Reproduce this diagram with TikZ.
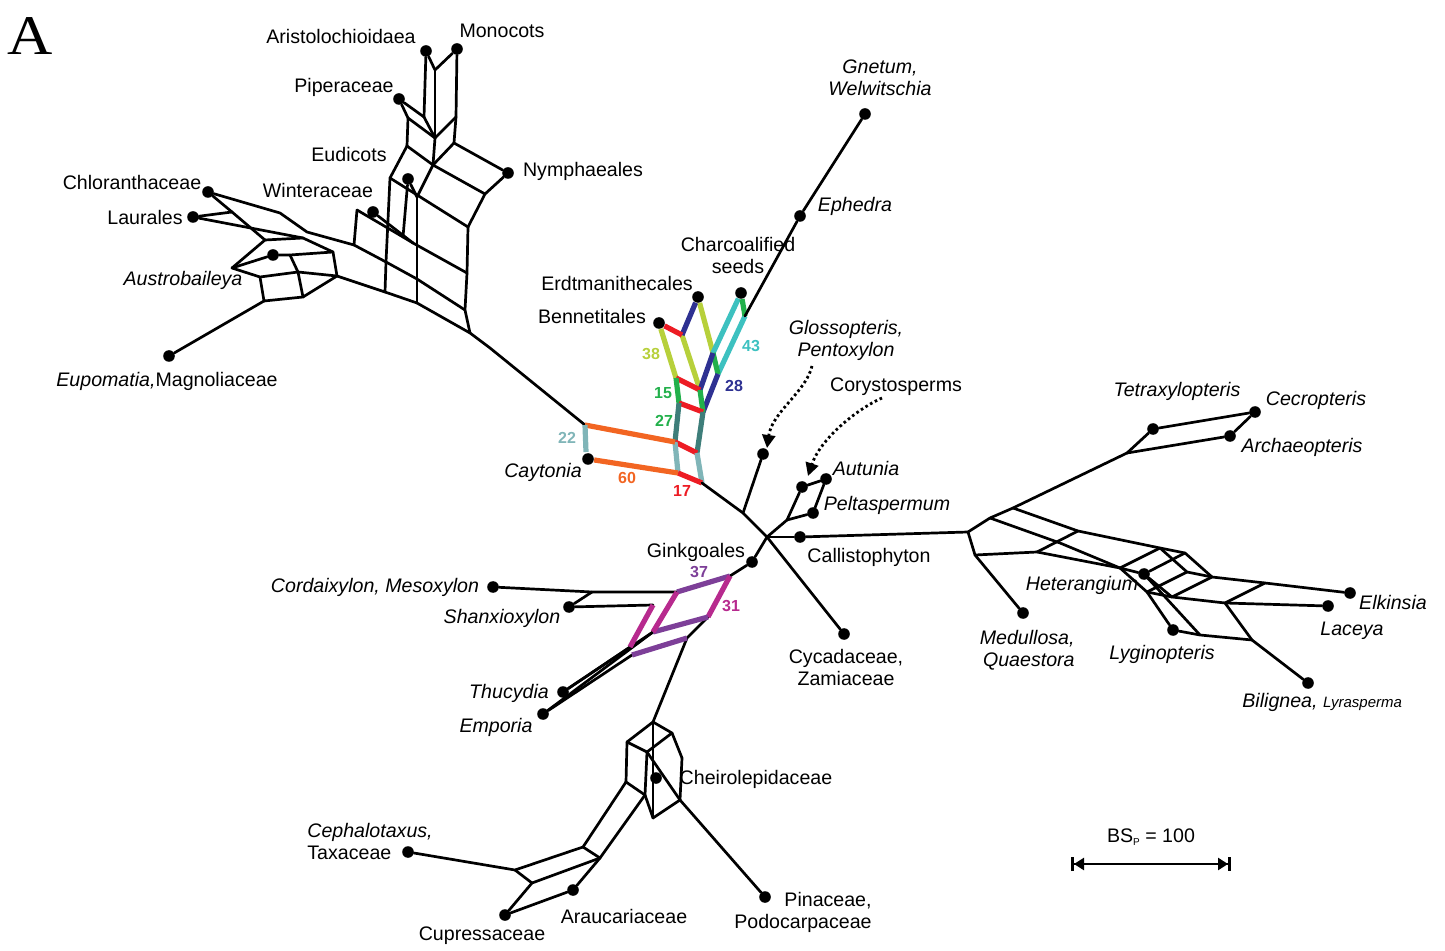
\documentclass[tikz,border=0pt]{standalone}
\usepackage{fontspec}
\setmainfont{Liberation Sans}
\newfontfamily\serifA{Liberation Serif}
\usetikzlibrary{arrows.meta}
\definecolor{cLime}{HTML}{B7D03B}
\definecolor{cGreen}{HTML}{22B04B}
\definecolor{cCyan}{HTML}{3DC1C0}
\definecolor{cNavy}{HTML}{2E3192}
\definecolor{cRed}{HTML}{ED1C24}
\definecolor{cOrange}{HTML}{F26522}
\definecolor{cDTeal}{HTML}{3E7E7A}
\definecolor{cLTeal}{HTML}{80B5B8}
\definecolor{cPurple}{HTML}{7D3F98}
\definecolor{cMagenta}{HTML}{B72A8E}
\begin{document}
\begin{tikzpicture}[x=0.5pt,y=-0.5pt,
  e/.style={line width=1.35pt,line cap=round,line join=round},
  ce/.style={line width=2.6pt},
  dot/.style={circle,fill=black,inner sep=0pt,minimum size=5.8pt},
  lab/.style={font=\fontsize{9.8}{11}\selectfont,inner sep=0pt},
  ilab/.style={font=\fontsize{9.8}{11}\selectfont\itshape,inner sep=0pt},
  num/.style={font=\fontsize{8}{9}\selectfont\bfseries,inner sep=0pt},
  arr/.style={line width=1.4pt,dash pattern=on 1.3pt off 1.4pt,-{Triangle[length=6.5pt,width=6.5pt]}},
]
\useasboundingbox (0,0) rectangle (1445,951);

% ---------------- dots ----------------
\node[dot] (aris) at (426,51) {};
\node[dot] (mono) at (457,49) {};
\node[dot] (pipe) at (399,99) {};
\node[dot] (nymph) at (508,173) {};
\node[dot] (eudi) at (408,179) {};
\node[dot] (wint) at (373,212) {};
\node[dot] (chlo) at (208,192) {};
\node[dot] (laur) at (193,217) {};
\node[dot] (austro) at (273,255) {};
\node[dot] (eupo) at (169,356) {};
\node[dot] (gnet) at (865,114) {};
\node[dot] (ephe) at (800,216) {};
\node[dot] (char) at (741,293) {};
\node[dot] (erdt) at (698,297) {};
\node[dot] (benn) at (659,323) {};
\node[dot] (cayt) at (588,459) {};
\node[dot] (glos) at (763,454) {};
\node[dot] (cdot) at (802,487) {};
\node[dot] (autu) at (826,479) {};
\node[dot] (pelt) at (813,513) {};
\node[dot] (call) at (800,537) {};
\node[dot] (ginkgo) at (752,562) {};
\node[dot] (cycad) at (844,634) {};
\node[dot] (cord) at (493,587) {};
\node[dot] (shanx) at (569,607) {};
\node[dot] (thuc) at (563,692) {};
\node[dot] (empo) at (543,714) {};
\node[dot] (cheir) at (656,778) {};
\node[dot] (ceph) at (408,852) {};
\node[dot] (cupr) at (505,915) {};
\node[dot] (arauc) at (573,890) {};
\node[dot] (pina) at (765,897) {};
\node[dot] (medu) at (1023,613) {};
\node[dot] (tetr) at (1153,429) {};
\node[dot] (cecr) at (1255,412) {};
\node[dot] (arch) at (1230,436) {};
\node[dot] (heter) at (1144,574) {};
\node[dot] (lygi) at (1173,630) {};
\node[dot] (elki) at (1350,593) {};
\node[dot] (lace) at (1328,606) {};
\node[dot] (bili) at (1308,683) {};

% ---------------- angiosperm network ----------------
\coordinate (a1) at (424,117); \coordinate (a2) at (435,70);
\coordinate (a3) at (435,138); \coordinate (a4) at (456,117);
\coordinate (a5) at (408,118); \coordinate (a6) at (407,146);
\coordinate (a7) at (433,165); \coordinate (a8) at (454,143);
\coordinate (a9) at (390,178); \coordinate (a10) at (485,194);
\coordinate (a11) at (417,197); \coordinate (a12) at (468,227);
\coordinate (a13) at (403,237); \coordinate (a14) at (385,292);
\coordinate (a15) at (417,303); \coordinate (a16) at (467,273);
\coordinate (a17) at (465,310); \coordinate (a18) at (470,333);
\coordinate (a19) at (357,210); \coordinate (a20) at (354,245);
\coordinate (a21) at (413,243); \coordinate (a22) at (386,262);
\coordinate (a23) at (417,279); \coordinate (a24) at (280,213);
\coordinate (a25) at (307,232); \coordinate (a26) at (232,212);
\coordinate (a28) at (490,348);
\coordinate (bL) at (232,268); \coordinate (bT1) at (265,240);
\coordinate (bT2) at (303,238); \coordinate (bM1) at (290,255);
\coordinate (bM2) at (333,252); \coordinate (bF1) at (260,277);
\coordinate (bF2) at (298,272); \coordinate (bF3) at (337,276);
\coordinate (bG1) at (264,301); \coordinate (bG2) at (303,297);

\draw[e] (aris) -- (a1);
\draw[e] (aris) -- (a2);
\draw[e] (mono) -- (a2);
\draw[e] (a2) -- (a3);
\draw[e] (mono) -- (a4);
\draw[e] (pipe) -- (a5);
\draw[e] (pipe) -- (a1);
\draw[e] (a5) -- (a3);
\draw[e] (a1) -- (a3);
\draw[e] (a4) -- (a3);
\draw[e] (a5) -- (a6);
\draw[e] (a3) -- (a7);
\draw[e] (a4) -- (a8);
\draw[e] (a6) -- (a7);
\draw[e] (a8) -- (a7);
\draw[e] (a8) -- (nymph);
\draw[e] (a6) -- (a9);
\draw[e] (a7) -- (a10);
\draw[e] (a7) -- (a11);
\draw[e] (nymph) -- (a10);
\draw[e] (a9) -- (a12);
\draw[e] (a10) -- (a12);
\draw[e] (eudi) -- (a13);
\draw[e] (eudi) -- (a11);
\draw[e] (a9) -- (a22) -- (a14);
\draw[e] (a11) -- (a23) -- (a15);
\draw[e] (a12) -- (a16) -- (a17) -- (a18);
\draw[e] (a19) -- (a20);
\draw[e] (a19) -- (a13) -- (a21);
\draw[e] (wint) -- (a21);
\draw[e] (a21) -- (a16);
\draw[e] (chlo) -- (a24) -- (a25) -- (a20) -- (a22) -- (a23) -- (a17);
\draw[e] (chlo) -- (a26);
\draw[e] (laur) -- (a26);
\draw[e] (a26) -- (bT1);
\draw[e] (laur) -- (bT2) -- (bM2);
\draw[e] (bL) -- (bT1) -- (bT2);
\draw[e] (bL) -- (austro);
\draw[e] (austro) -- (bM1) -- (bM2);
\draw[e] (bM1) -- (bF2);
\draw[e] (bL) -- (bF1) -- (bF2) -- (bF3);
\draw[e] (bF1) -- (bG1) -- (bG2) -- (bF3);
\draw[e] (bF2) -- (bG2);
\draw[e] (bF3) -- (bM2);
\draw[e] (bG1) -- (eupo);
\coordinate (k0) at (585,425);
\draw[e] (bF3) -- (a14) -- (a15) -- (a18) -- (a28) -- (k0);

% ---------------- coloured network ----------------
\coordinate (c1) at (682,335); \coordinate (c2) at (676,378);
\coordinate (c3) at (700,390); \coordinate (c4) at (713,353);
\coordinate (c5) at (745,316); \coordinate (c6) at (718,374);
\coordinate (c7) at (679,403); \coordinate (c8) at (703,412);
\coordinate (c9) at (675,442); \coordinate (c10) at (697,453);
\coordinate (c11) at (678,473); \coordinate (c12) at (702,483);
\coordinate (k1) at (743,513); \coordinate (hub) at (767,537);
\coordinate (lt22) at (586,452);

\draw[ce,cLime] (benn) -- (c2);
\draw[ce,cLime] (c1) -- (c3);
\draw[ce,cLime] (erdt) -- (c4);
\draw[ce,cCyan] (char) -- (c4);
\draw[ce,cCyan] (c5) -- (c6);
\draw[ce,cGreen] (char) -- (c5);
\draw[ce,cGreen] (c4) -- (c6);
\draw[ce,cNavy] (c1) -- (erdt);
\draw[ce,cNavy] (c4) -- (c3);
\draw[ce,cNavy] (c6) -- (c8);
\draw[ce,cRed] (benn) -- (c1);
\draw[ce,cRed] (c2) -- (c3);
\draw[ce,cGreen] (c2) -- (c7);
\draw[ce,cGreen] (c3) -- (c8);
\draw[ce,cRed] (c7) -- (c8);
\draw[ce,cDTeal] (c7) -- (c9);
\draw[ce,cDTeal] (c8) -- (c10);
\draw[ce,cRed] (c9) -- (c10);
\draw[ce,cLTeal] (c9) -- (c11);
\draw[ce,cLTeal] (c10) -- (c12);
\draw[ce,cRed] (c11) -- (c12);
\draw[ce,cOrange] (k0) -- (c9);
\draw[ce,cOrange] (cayt) -- (c11);
\draw[ce,cLTeal] (k0) -- (lt22);

\node[num,text=cLTeal] (n22) at (567,438) {22};
\node[num,text=cOrange] (n60) at (627,478) {60};
\node[num,text=cRed] (n17) at (682,491) {17};
\node[num,text=cGreen] (n27) at (664,421) {27};
\node[num,text=cGreen] (n15) at (663,393) {15};
\node[num,text=cLime] (n38) at (651,354) {38};
\node[num,text=cCyan] (n43) at (751,346) {43};
\node[num,text=cNavy] (n28) at (734,386) {28};

% ---------------- centre ----------------
\draw[e] (c5) -- (ephe) -- (gnet);
\draw[e] (c12) -- (k1) -- (hub) -- (cycad);
\draw[e] (k1) -- (glos);
\draw[e] (hub) -- (call);
\coordinate (p0) at (787,520);
\draw[e] (hub) -- (p0);
\draw[e] (p0) -- (cdot);
\draw[e] (p0) -- (pelt);
\draw[e] (cdot) -- (autu);
\draw[e] (autu) -- (pelt);
\coordinate (g1) at (730,576);
\draw[e] (hub) -- (ginkgo) -- (g1);

\coordinate (ar1s) at (812,366);
\coordinate (ar1e) at (767,448);
\draw[arr] (ar1s) .. controls (806,392) and (772,412) .. (ar1e);
\coordinate (ar2s) at (882,398);
\coordinate (ar2e) at (808,476);
\draw[arr] (ar2s) .. controls (855,410) and (820,440) .. (ar2e);

% ---------------- conifer-cordaite network ----------------
\coordinate (g2) at (677,592); \coordinate (g3) at (708,617);
\coordinate (g4) at (653,632); \coordinate (g5) at (653,605);
\coordinate (g6) at (630,647); \coordinate (g7) at (687,638);
\coordinate (g8) at (632,655); \coordinate (g9) at (592,592);
\coordinate (h0) at (653,722);

\draw[e] (cord) -- (g9) -- (g2);
\draw[e] (g9) -- (shanx);
\draw[e] (shanx) -- (g5);
\draw[e] (g3) -- (g7) -- (h0);
\draw[e] (thuc) -- (g4);
\draw[e] (thuc) -- (g6);
\draw[e] (empo) -- (g8);
\draw[e] (empo) -- (g4);
\draw[ce,cPurple] (g1) -- (g2);
\draw[ce,cMagenta] (g1) -- (g3);
\draw[ce,cPurple] (g3) -- (g4);
\draw[ce,cMagenta] (g2) -- (g4);
\draw[ce,cMagenta] (g5) -- (g6);
\draw[ce,cPurple] (g7) -- (g8);
\node[num,text=cPurple] (n37) at (699,572) {37};
\node[num,text=cMagenta] (n31) at (731,606) {31};

\coordinate (h1) at (627,742); \coordinate (h2) at (672,733);
\coordinate (h3) at (647,752); \coordinate (h4) at (682,758);
\coordinate (h5) at (626,782); \coordinate (h6) at (645,795);
\coordinate (h7) at (680,800); \coordinate (h8) at (653,818);
\draw[e] (h0) -- (h1); \draw[e] (h0) -- (h2);
\draw[e] (h1) -- (h3); \draw[e] (h2) -- (h3);
\draw[e] (h2) -- (h4); \draw[e] (h1) -- (h5);
\draw[e] (h3) -- (h6); \draw[e] (h5) -- (h6);
\draw[e] (h4) -- (h7); \draw[e] (h6) -- (h8);
\draw[e] (h7) -- (h8); \draw[e] (h0) -- (h8);
\draw[e] (h3) -- (h7);

\coordinate (j1) at (583,847); \coordinate (j2) at (515,870);
\coordinate (j3) at (600,858); \coordinate (j4) at (532,883);
\draw[e] (h5) -- (j1) -- (j2) -- (ceph);
\draw[e] (h6) -- (j3) -- (j4) -- (cupr);
\draw[e] (j1) -- (j3);
\draw[e] (j2) -- (j4);
\draw[e] (cupr) -- (arauc);
\draw[e] (arauc) -- (j3);
\draw[e] (h7) -- (pina);

% ---------------- right network ----------------
\coordinate (r0) at (968,532); \coordinate (r1) at (990,518);
\coordinate (r2) at (1013,508); \coordinate (r3) at (975,555);
\coordinate (t0) at (1127,453);
\draw[e] (call) -- (r0) -- (r1) -- (r2);
\draw[e] (r0) -- (r3) -- (medu);
\draw[e] (r2) -- (t0) -- (tetr) -- (cecr);
\draw[e] (t0) -- (arch) -- (cecr);

% upper strand u, lower strand l (offset by a common split)
\coordinate (q1) at (1078,531); \coordinate (q2) at (1037,552);
\coordinate (q3) at (1060,543);
\coordinate (u1) at (1160,548); \coordinate (u2) at (1185,553);
\coordinate (u2b) at (1187,572); \coordinate (u3) at (1212,577);
\coordinate (u4) at (1265,583);
\coordinate (l1) at (1120,568); \coordinate (l2b) at (1147,592);
\coordinate (l3) at (1172,597); \coordinate (l4) at (1225,603);
\coordinate (q11) at (1252,640); \coordinate (q12) at (1200,635);

\draw[e] (r2) -- (q1) -- (u1) -- (u2) -- (u3) -- (u4) -- (elki);
\draw[e] (u1) -- (u2b) -- (u3);
\draw[e] (r3) -- (q2) -- (l1) -- (heter) -- (l3) -- (l4) -- (lace);
\draw[e] (l1) -- (l2b) -- (l3);
\draw[e] (r1) -- (q3) -- (l1);
\draw[e] (q2) -- (q1);
\draw[e] (l1) -- (u1);
\draw[e] (heter) -- (u2);
\draw[e] (l2b) -- (u2b);
\draw[e] (l3) -- (u3);
\draw[e] (l4) -- (u4);
\draw[e] (l2b) -- (lygi) -- (q12) -- (q11);
\draw[e] (heter) -- (q12);
\draw[e] (l4) -- (q11) -- (bili);

% ---------------- labels ----------------
\node[font=\serifA\fontsize{28}{28}\selectfont,inner sep=0pt] (lblA) at (30,36) {\scalebox{1.12}[1]{A}};
\node[lab] (tAris) at (341,37) {Aristolochioidaea};
\node[lab] (tMono) at (502,31) {Monocots};
\node[lab] (tPipe) at (344,87) {Piperaceae};
\node[lab] (tEudi) at (349,155) {Eudicots};
\node[lab] (tNymph) at (583,171) {Nymphaeales};
\node[lab] (tChlo) at (132,182) {Chloranthaceae};
\node[lab] (tWint) at (318,191) {Winteraceae};
\node[lab] (tLaur) at (145,217) {Laurales};
\node[ilab] (tAustro) at (183,280) {Austrobaileya};
\node[lab] (tEupo) at (167,381) {\itshape Eupomatia,\upshape Magnoliaceae};
\node[ilab,align=center] (tGnet) at (880,78) {Gnetum,\\Welwitschia};
\node[ilab] (tEphe) at (855,206) {Ephedra};
\node[lab,align=center] (tChar) at (738,255) {Charcoalified\\seeds};
\node[lab] (tErdt) at (617,283) {Erdtmanithecales};
\node[lab] (tBenn) at (592,316) {Bennetitales};
\node[ilab,align=center] (tGlos) at (846,340) {Glossopteris,\\Pentoxylon};
\node[lab] (tCory) at (896,387) {Corystosperms};
\node[ilab] (tCayt) at (543,472) {Caytonia};
\node[ilab] (tAutu) at (866,468) {Autunia};
\node[ilab] (tPelt) at (887,505) {Peltaspermum};
\node[lab] (tCall) at (869,557) {Callistophyton};
\node[lab] (tGink) at (696,552) {Ginkgoales};
\node[ilab] (tCord) at (375,587) {Cordaixylon, Mesoxylon};
\node[ilab] (tShan) at (502,618) {Shanxioxylon};
\node[ilab] (tThuc) at (509,693) {Thucydia};
\node[ilab] (tEmpo) at (496,727) {Emporia};
\node[lab,align=center] (tCyca) at (846,667) {Cycadaceae,\\Zamiaceae};
\node[lab] (tChei) at (756,779) {Cheirolepidaceae};
\node[lab,align=left,anchor=west] (tCeph) at (307,841) {\itshape Cephalotaxus,\\Taxaceae};
\node[lab] (tCupr) at (482,936) {Cupressaceae};
\node[lab] (tArau) at (624,916) {Araucariaceae};
\node[lab,align=right,anchor=east] (tPina) at (872,912) {Pinaceae,\\Podocarpaceae};
\node[ilab,align=right,anchor=east] (tMedu) at (1075,650) {Medullosa,\\Quaestora};
\node[ilab] (tHete) at (1082,585) {Heterangium};
\node[ilab] (tLygi) at (1162,654) {Lyginopteris};
\node[ilab] (tTetr) at (1177,391) {Tetraxylopteris};
\node[ilab] (tCecr) at (1316,400) {Cecropteris};
\node[ilab] (tArch) at (1302,447) {Archaeopteris};
\node[ilab] (tElki) at (1393,602) {Elkinsia};
\node[ilab] (tLace) at (1352,631) {Laceya};
\node[ilab,anchor=west] (tBili) at (1242,702) {Bilignea, {\fontsize{7.5}{9}\selectfont Lyrasperma}};

% scale bar
\node[lab] (tBS) at (1151,837) {BS\raisebox{-0.35ex}{\fontsize{5}{5}\selectfont P} = 100};
\coordinate (sb1) at (1071,864);
\coordinate (sb2) at (1231,864);
\draw[line width=1.3pt,{Bar[width=7pt,line width=1.5pt]Triangle[length=5pt,width=6pt]}-{Triangle[length=5pt,width=6pt]Bar[width=7pt,line width=1.5pt]}] (sb1) -- (sb2);
\end{tikzpicture}
\end{document}
